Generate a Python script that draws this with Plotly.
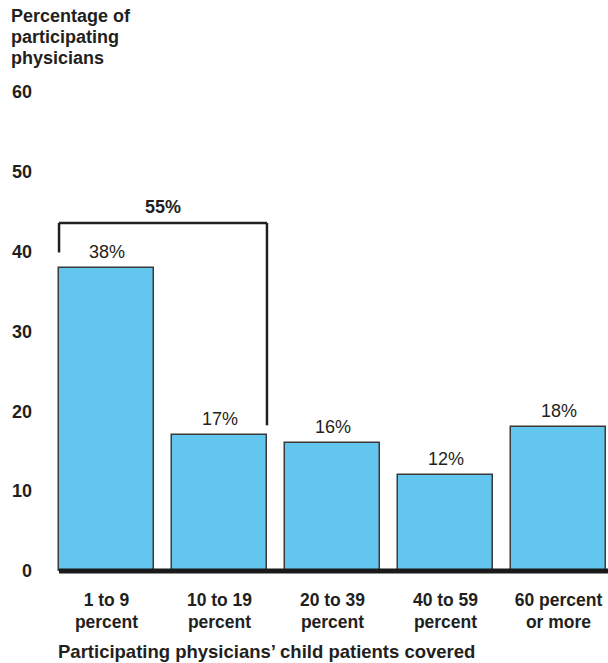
import plotly.graph_objects as go

# Share of participating physicians by portion of child patients covered
categories = ["1 to 9<br>percent", "10 to 19<br>percent", "20 to 39<br>percent",
              "40 to 59<br>percent", "60 percent<br>or more"]
values = [38, 17, 16, 12, 18]
y_ticks = [0, 10, 20, 30, 40, 50, 60]
y_title_lines = ["Percentage of", "participating", "physicians"]
x_title = "Participating physicians\u2019 child patients covered"

FONT = "Liberation Sans, Arial, Helvetica, sans-serif"
TEXT = "#231f20"
BAR_FILL = "#62C6EE"
BAR_EDGE = "#3a3a3a"
SIZE = 18

W, H = 608, 663
L, R, T, B = 50, 0, 92, 83
plot_w = W - L - R
plot_h = H - T - B
slot = 113.0                       # pixels per category slot
x_max = -0.5 + plot_w / slot
bar_w = 0.84
half = bar_w / 2

fig = go.Figure(go.Bar(
    x=list(range(len(categories))),
    y=values,
    width=bar_w,
    marker=dict(color=BAR_FILL, line=dict(color=BAR_EDGE, width=1.5)),
    hoverinfo="skip",
))

annotations = []
# value labels above each bar
for i, v in enumerate(values):
    annotations.append(dict(
        x=i, y=v, xref="x", yref="y", text=f"{v}%", showarrow=False,
        yanchor="bottom", yshift=4,
        font=dict(family=FONT, size=SIZE, color=TEXT),
    ))

# bracket grouping the two smallest coverage groups
group_total = values[0] + values[1]
bracket_top = 43.6
shapes = [
    dict(type="line", xref="x", yref="y", x0=-half, x1=-half, y0=39.9, y1=bracket_top,
         line=dict(color=TEXT, width=2.5)),
    dict(type="line", xref="x", yref="y", x0=-half, x1=1 + half, y0=bracket_top, y1=bracket_top,
         line=dict(color=TEXT, width=2.5)),
    dict(type="line", xref="x", yref="y", x0=1 + half, x1=1 + half, y0=values[1] + 1.25, y1=bracket_top,
         line=dict(color=TEXT, width=2.5)),
    # heavy baseline
    dict(type="line", xref="x", yref="y", x0=-half, x1=x_max, y0=0, y1=0,
         line=dict(color="#1a1a1a", width=5)),
]
annotations.append(dict(
    x=0.5, y=bracket_top, xref="x", yref="y", text=f"<b>{group_total}%</b>",
    showarrow=False, yanchor="bottom", yshift=4,
    font=dict(family=FONT, size=SIZE, color=TEXT),
))

# y-axis title, one line per annotation for tight leading
for k, line in enumerate(y_title_lines):
    annotations.append(dict(
        x=(9 - L) / plot_w, y=1, xref="paper", yref="paper",
        yshift=T - 16 - 21 * k,
        xanchor="left", yanchor="middle", showarrow=False,
        text=f"<b>{line}</b>",
        font=dict(family=FONT, size=SIZE, color=TEXT),
    ))

# x-axis title
annotations.append(dict(
    x=(56 - L) / plot_w, y=0, xref="paper", yref="paper", yshift=-(651 - (H - B)),
    xanchor="left", yanchor="middle", showarrow=False,
    text=f"<b>{x_title}</b>",
    font=dict(family=FONT, size=18.5, color=TEXT),
))

y_min = -(H - B - 571) / 8.0
fig.update_layout(
    width=W, height=H,
    margin=dict(l=L, r=R, t=T, b=B, pad=0),
    plot_bgcolor="white", paper_bgcolor="white",
    showlegend=False,
    bargap=0,
    shapes=shapes,
    annotations=annotations,
    font=dict(family=FONT, color=TEXT),
    xaxis=dict(
        range=[-0.5, x_max],
        tickmode="array",
        tickvals=list(range(len(categories))),
        ticktext=[f"<b>{c}</b>" for c in categories],
        tickfont=dict(family=FONT, size=17.5, color=TEXT),
        showgrid=False, zeroline=False, showline=False, ticks="",
        ticklabelstandoff=7,
        fixedrange=True,
    ),
    yaxis=dict(
        range=[y_min, 60],
        tickmode="array",
        tickvals=y_ticks,
        ticktext=[f"<b>{t}</b>" for t in y_ticks],
        tickfont=dict(family=FONT, size=SIZE, color=TEXT),
        showgrid=False, zeroline=False, showline=False, ticks="",
        ticklabelstandoff=17,
        fixedrange=True,
    ),
)

fig.write_html("out.html")
